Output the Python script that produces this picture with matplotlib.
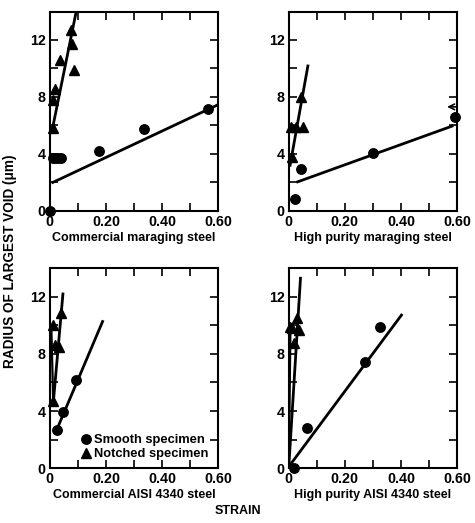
import matplotlib
matplotlib.use("Agg")
import matplotlib.pyplot as plt
from matplotlib.ticker import MultipleLocator, FuncFormatter

plt.rcParams['font.family'] = ['Liberation Sans', 'DejaVu Sans']
plt.rcParams['font.weight'] = 'bold'

titles = ["Commercial maraging steel", "High purity maraging steel",
          "Commercial AISI 4340 steel", "High purity AISI 4340 steel"]

# Smooth specimen points (strain, radius um)
smooth_x = [
    [0.0, 0.012, 0.02, 0.03, 0.04, 0.175, 0.336, 0.565],
    [0.021, 0.045, 0.30, 0.593],
    [0.026, 0.048, 0.095],
    [0.018, 0.065, 0.271, 0.327],
]
smooth_y = [
    [0.0, 3.7, 3.7, 3.7, 3.7, 4.2, 5.75, 7.15],
    [0.8, 2.9, 4.05, 6.6],
    [2.7, 3.95, 6.2],
    [0.0, 2.8, 7.4, 9.9],
]
# Notched specimen points
notched_x = [
    [0.012, 0.012, 0.02, 0.036, 0.08, 0.074, 0.087],
    [0.01, 0.008, 0.025, 0.05, 0.045],
    [0.012, 0.018, 0.033, 0.039, 0.01],
    [0.012, 0.018, 0.03, 0.036, 0.006],
]
notched_y = [
    [5.8, 7.8, 8.55, 10.6, 11.7, 12.7, 9.9],
    [3.8, 5.9, 5.9, 5.9, 8.0],
    [4.7, 8.6, 8.5, 10.85, 10.0],
    [9.8, 8.8, 10.5, 9.7, 9.9],
]
# Fitted lines (end points)
smooth_fit_x = [[0.006, 0.60], [0.027, 0.587], [0.024, 0.19], [0.0, 0.405]]
smooth_fit_y = [[1.95, 7.45], [2.0, 5.98], [2.66, 10.36], [0.1, 10.8]]
notched_fit_x = [[0.0095, 0.093], [0.0036, 0.069], [0.012, 0.047], [0.0, 0.042]]
notched_fit_y = [[5.8, 13.9], [3.1, 10.27], [4.55, 12.3], [0.1, 13.4]]
# Secondary notched bound lines (bottom panels)
notched_fit2_x = [None, None, [0.012, 0.005], [0.0, 0.006]]
notched_fit2_y = [None, None, [4.55, 10.0], [0.1, 10.1]]

fig = plt.figure(figsize=(4.75, 5.23), dpi=100)
positions = [
    [0.105, 0.597, 0.354, 0.381],
    [0.608, 0.597, 0.354, 0.381],
    [0.105, 0.105, 0.354, 0.382],
    [0.608, 0.105, 0.354, 0.382],
]

def xfmt(v, pos):
    if abs(v) < 1e-9:
        return "0"
    return f"{v:.2f}"

for i, pos in enumerate(positions):
    ax = fig.add_axes(pos)
    ax.set_xlim(0, 0.6)
    ax.set_ylim(0, 14)
    ax.plot(smooth_fit_x[i], smooth_fit_y[i], color='black', lw=2.0, solid_capstyle='butt')
    ax.plot(notched_fit_x[i], notched_fit_y[i], color='black', lw=2.0, solid_capstyle='butt')
    if notched_fit2_x[i] is not None:
        ax.plot(notched_fit2_x[i], notched_fit2_y[i], color='black', lw=1.6)
    ax.plot(smooth_x[i], smooth_y[i], 'o', color='black', ms=6.8, clip_on=False,
            label='Smooth specimen', zorder=5)
    ax.plot(notched_x[i], notched_y[i], '^', color='black', ms=6.8, clip_on=False,
            label='Notched specimen', zorder=5)
    ax.xaxis.set_major_locator(MultipleLocator(0.2))
    ax.xaxis.set_minor_locator(MultipleLocator(0.1))
    ax.yaxis.set_major_locator(MultipleLocator(4))
    ax.yaxis.set_minor_locator(MultipleLocator(2))
    ax.xaxis.set_major_formatter(FuncFormatter(xfmt))
    ax.tick_params(which='both', direction='in', top=True, right=True, width=1.2,
                   labelsize=10.3, pad=3)
    ax.tick_params(which='major', length=6)
    ax.tick_params(which='minor', length=6)
    for lab in ax.get_xticklabels() + ax.get_yticklabels():
        lab.set_fontweight('bold')
    for sp in ax.spines.values():
        sp.set_linewidth(1.5)
    ax.set_xlabel(titles[i], fontsize=9, fontweight='bold', labelpad=2)
    if i == 1:
        ax.annotate('', xy=(0.555, 7.3), xytext=(0.61, 7.3),
                    arrowprops=dict(arrowstyle='->', lw=1.2, color='black'),
                    annotation_clip=False)
    if i == 2:
        ax.legend(loc='lower right', frameon=False, handletextpad=0.1,
                  handlelength=1.0, borderaxespad=0.2, labelspacing=0.15,
                  prop={'weight': 'bold', 'size': 9.3}, bbox_to_anchor=(0.99, 0.0))

fig.text(0.022, 0.5, "RADIUS OF LARGEST VOID (\u03bcm)", rotation=90, ha='center',
         va='center', fontsize=9.8, fontweight='bold')
fig.text(0.50, 0.022, "STRAIN", ha='center', va='center', fontsize=9, fontweight='bold')

fig.savefig("out.png", dpi=100)
